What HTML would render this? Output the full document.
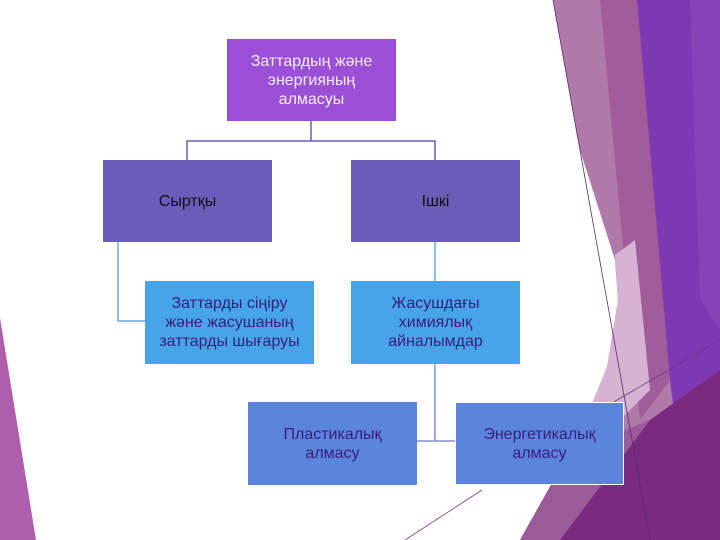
<!DOCTYPE html>
<html><head><meta charset="utf-8"><style>
html,body{margin:0;padding:0;background:#fff}
body{width:720px;height:540px;position:relative;overflow:hidden;font-family:"Liberation Sans","DejaVu Sans",sans-serif}
.b{position:absolute;display:flex;align-items:center;justify-content:center;text-align:center;font-size:16px;line-height:19px;color:#3b1d7a}
svg{position:absolute;left:0;top:0}
</style></head><body>
<svg width="720" height="540">
<polygon points="0,318 36,540 0,540" fill="#ad5fad"/>
<polygon points="553,0 720,0 720,540 520,540 580,433 607,367 618,300 615,260 580,150" fill="#b07aa8"/>
<polygon points="600,0 637,0 670,380 640,420 628,300" fill="#a25c9a"/>
<polygon points="615,255 635,240 650,390 600,440 580,433 607,367 618,300" fill="#d8b2d2"/>
<polygon points="520,540 580,433 600,440 650,420 560,540" fill="#9b5a98"/>
<polygon points="637,0 720,0 720,540 690,540 670,380" fill="#7d38b2"/>
<polygon points="690,0 720,0 720,330 700,300" fill="#8842b8"/>
<polygon points="560,540 650,420 720,370 720,540" fill="#7a2a80"/>
<line x1="553" y1="0" x2="650" y2="540" stroke="#5a2a70" stroke-width="0.8"/>
<line x1="600" y1="410" x2="720" y2="340" stroke="#6a3a80" stroke-width="0.8"/>
<line x1="405" y1="540" x2="482" y2="490" stroke="#7a3a90" stroke-width="0.8"/>
<g stroke="#6a5cb8" stroke-width="1.5" fill="none">
<polyline points="311,121 311,141"/>
<polyline points="187,160 187,141 435,141 435,160"/>
</g>
<g stroke="#6fa8e0" stroke-width="1.5" fill="none">
<polyline points="118,242 118,321 145,321"/>
<polyline points="435,242 435,281"/>
</g>
<g stroke="#8090d0" stroke-width="1.5" fill="none">
<polyline points="435,364 435,441"/>
<polyline points="417,441 455,441"/>
</g>
</svg>
<div class="b" style="left:227px;top:39px;width:169px;height:82px;background:#9b4fd6;color:#f4ecff">Заттардың және<br>энергияның<br>алмасуы</div>
<div class="b" style="left:103px;top:160px;width:169px;height:82px;background:#6a5cb8;color:#111">Сыртқы</div>
<div class="b" style="left:351px;top:160px;width:169px;height:82px;background:#6a5cb8;color:#111">Ішкі</div>
<div class="b" style="left:145px;top:281px;width:169px;height:83px;background:#48a4e8">Заттарды сіңіру<br>және жасушаның<br>заттарды шығаруы</div>
<div class="b" style="left:351px;top:281px;width:169px;height:83px;background:#48a4e8">Жасушдағы<br>химиялық<br>айналымдар</div>
<div class="b" style="left:248px;top:402px;width:169px;height:83px;background:#5b84dc">Пластикалық<br>алмасу</div>
<div class="b" style="left:455px;top:402px;width:167px;height:81px;background:#5b84dc;border:1px solid #fff">Энергетикалық<br>алмасу</div>
</body></html>
